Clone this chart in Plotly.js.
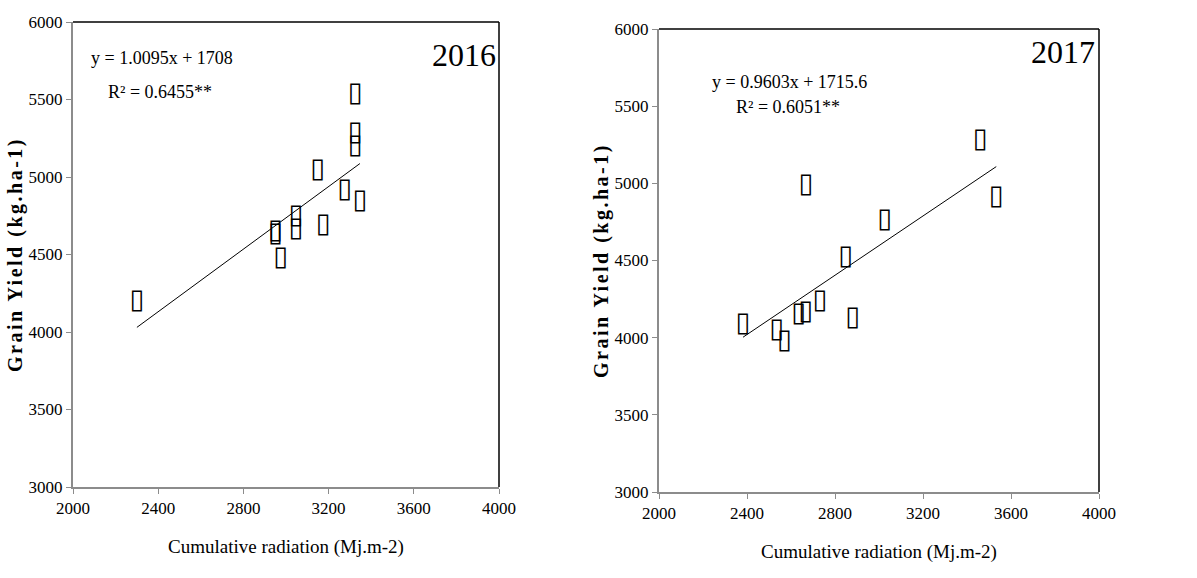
<!DOCTYPE html>
<html>
<head>
<meta charset="utf-8">
<script src="https://cdn.plot.ly/plotly-3.0.1.min.js"></script>
<style>
  html, body { margin: 0; padding: 0; background: #fff; }
  #chart { width: 1197px; height: 578px; }
  .g-ytitle text, .g-y2title text { letter-spacing: 2.5px; }
</style>
</head>
<body>
<div id="chart"></div>
<script>
// ---- data ----
const x2016 = [3325, 3325, 3325, 3149, 3276, 3347, 3047, 3047, 3175, 2950, 2950, 2975, 2300];
const y2016 = [5533, 5282, 5196, 5045, 4912, 4843, 4747, 4665, 4686, 4650, 4630, 4475, 4200];
const x2017 = [3460, 2668, 3533, 3026, 2848, 2732, 2667, 2635, 2880, 2382, 2535, 2570];
const y2017 = [5281, 4985, 4913, 4762, 4518, 4239, 4164, 4151, 4125, 4086, 4050, 3980];
const slopes = [1.0095, 0.9603];
const intercepts = [1708, 1715.6];
const eqLabels = ["y = 1.0095x + 1708", "y = 0.9603x + 1715.6"];
const r2Labels = ["R² = 0.6455**", "R² = 0.6051**"];
const yearLabels = ["2016", "2017"];
const xTitle = "Cumulative radiation (Mj.m-2)";
const yTitle = "Grain Yield (kg.ha-1)";
const pointGlyph = "▯";

function trend(xs, i) {
  const lo = Math.min(...xs), hi = Math.max(...xs);
  return { x: [lo, hi], y: [slopes[i] * lo + intercepts[i], slopes[i] * hi + intercepts[i]] };
}
const t16 = trend(x2016, 0), t17 = trend(x2017, 1);

const serif = 'Liberation Serif, Times New Roman, serif';
const glyphFont = { family: 'DejaVu Sans', size: 27, color: '#000' };

const traces = [
  { type: 'scatter', mode: 'text', x: x2016, y: y2016, text: x2016.map(() => pointGlyph),
    textposition: 'middle center', textfont: glyphFont, xaxis: 'x', yaxis: 'y', showlegend: false },
  { type: 'scatter', mode: 'lines', x: t16.x, y: t16.y, line: { color: '#000', width: 1 },
    xaxis: 'x', yaxis: 'y', showlegend: false },
  { type: 'scatter', mode: 'text', x: x2017, y: y2017, text: x2017.map(() => pointGlyph),
    textposition: 'middle center', textfont: glyphFont, xaxis: 'x2', yaxis: 'y2', showlegend: false },
  { type: 'scatter', mode: 'lines', x: t17.x, y: t17.y, line: { color: '#000', width: 1 },
    xaxis: 'x2', yaxis: 'y2', showlegend: false }
];

function xax(domain, anchor) {
  return {
    domain: domain, anchor: anchor, range: [2000, 4000], dtick: 400, tick0: 2000,
    showgrid: false, zeroline: false, showline: true, linecolor: '#8c8c8c', linewidth: 2,
    ticks: 'outside', ticklen: 5, tickcolor: '#8c8c8c', tickwidth: 1,
    tickfont: { family: serif, size: 17, color: '#000' },
    title: { text: xTitle, font: { family: serif, size: 19, color: '#000' }, standoff: 22 }
  };
}
function yax(domain, anchor) {
  return {
    domain: domain, anchor: anchor, range: [3000, 6000], dtick: 500, tick0: 3000,
    showgrid: false, zeroline: false, showline: true, linecolor: '#8c8c8c', linewidth: 2,
    ticks: 'outside', ticklen: 5, tickcolor: '#8c8c8c', tickwidth: 1,
    tickfont: { family: serif, size: 17, color: '#000' },
    title: { text: yTitle, font: { family: serif, size: 20, color: '#000', weight: 'bold' }, standoff: 1 }
  };
}

const W = 1197, H = 578;
const layout = {
  width: W, height: H,
  margin: { l: 0, r: 0, t: 0, b: 0 },
  paper_bgcolor: '#fff', plot_bgcolor: '#fff',
  showlegend: false,
  xaxis: xax([73 / W, 499 / W], 'y'),
  yaxis: yax([1 - 487 / H, 1 - 22 / H], 'x'),
  xaxis2: xax([659 / W, 1099 / W], 'y2'),
  yaxis2: yax([1 - 492 / H, 1 - 29 / H], 'x2'),
  shapes: [
    { type: 'line', xref: 'x domain', yref: 'y domain', x0: 0, x1: 1, y0: 1, y1: 1, line: { color: '#000', width: 1.5 } },
    { type: 'line', xref: 'x domain', yref: 'y domain', x0: 1, x1: 1, y0: 0, y1: 1, line: { color: '#000', width: 1.5 } },
    { type: 'line', xref: 'x2 domain', yref: 'y2 domain', x0: 0, x1: 1, y0: 1, y1: 1, line: { color: '#000', width: 1.5 } },
    { type: 'line', xref: 'x2 domain', yref: 'y2 domain', x0: 1, x1: 1, y0: 0, y1: 1, line: { color: '#000', width: 1.5 } }
  ],
  annotations: [
    { xref: 'x domain', yref: 'y domain', x: 0.037, y: 0.922, xanchor: 'left', yanchor: 'middle', showarrow: false,
      text: eqLabels[0], font: { family: serif, size: 18, color: '#000' } },
    { xref: 'x domain', yref: 'y domain', x: 0.077, y: 0.849, xanchor: 'left', yanchor: 'middle', showarrow: false,
      text: r2Labels[0], font: { family: serif, size: 18, color: '#000' } },
    { xref: 'x domain', yref: 'y domain', x: 0.997, y: 0.928, xanchor: 'right', yanchor: 'middle', showarrow: false,
      text: yearLabels[0], font: { family: serif, size: 32, color: '#000' } },
    { xref: 'x2 domain', yref: 'y2 domain', x: 0.117, y: 0.885, xanchor: 'left', yanchor: 'middle', showarrow: false,
      text: eqLabels[1], font: { family: serif, size: 18, color: '#000' } },
    { xref: 'x2 domain', yref: 'y2 domain', x: 0.17, y: 0.832, xanchor: 'left', yanchor: 'middle', showarrow: false,
      text: r2Labels[1], font: { family: serif, size: 18, color: '#000' } },
    { xref: 'x2 domain', yref: 'y2 domain', x: 0.995, y: 0.95, xanchor: 'right', yanchor: 'middle', showarrow: false,
      text: yearLabels[1], font: { family: serif, size: 32, color: '#000' } }
  ]
};

Plotly.newPlot('chart', traces, layout, { displayModeBar: false, staticPlot: true });
</script>
</body>
</html>
